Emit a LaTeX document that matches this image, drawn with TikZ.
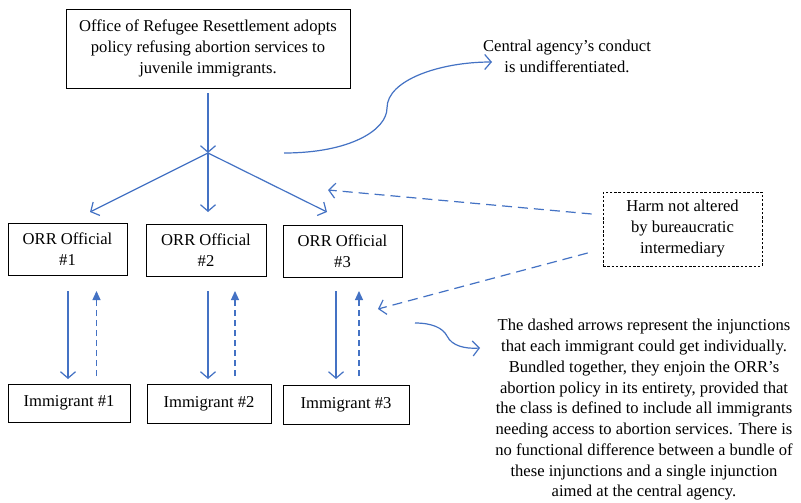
\documentclass[tikz,border=0pt]{standalone}
\usepackage{fontspec}
\setmainfont{Liberation Serif}
\usetikzlibrary{arrows.meta}
\definecolor{ablue}{HTML}{4472C4}
\begin{document}
\begin{tikzpicture}[x=1pt,y=-1pt,
  lbl/.style={align=center, inner sep=0pt, font=\fontsize{16.6}{21}\selectfont},
  box/.style={lbl, draw=black, line width=0.8pt},
  hbox/.style={lbl, draw=black, line width=0.7pt, dash pattern=on 2.5pt off 1.8pt},
  barb/.style={draw=ablue, line width=1.2pt, -{Straight Barb[length=6.5pt,width=15pt]}},
  dbarb/.style={barb, dash pattern=on 10pt off 6pt},
  up/.style={draw=ablue, line width=1.2pt, dash pattern=on 6pt off 4pt, -{Triangle[length=9pt,width=8pt]}},
]
\useasboundingbox (0,0) rectangle (801,503);
\fill[white] (0,0) rectangle (801,503);

\node[box, minimum width=284pt, minimum height=79pt] (top) at (208,48.5)
  {Office of Refugee Resettlement adopts\\policy refusing abortion services to\\juvenile immigrants.};

\node[box, minimum width=119pt, minimum height=52pt] (o1) at (67.5,249) {ORR Official\\\#1};
\node[box, minimum width=120pt, minimum height=52pt] (o2) at (206,250) {ORR Official\\\#2};
\node[box, minimum width=119pt, minimum height=52pt] (o3) at (342.5,251) {ORR Official\\\#3};

\node[box, minimum width=122pt, minimum height=38pt] (i1) at (69,403) {Immigrant \#1};
\node[box, minimum width=124pt, minimum height=39pt] (i2) at (209,403.5) {Immigrant \#2};
\node[box, minimum width=126pt, minimum height=39pt] (i3) at (346,404.5) {Immigrant \#3};

\node[hbox, minimum width=159pt, minimum height=74pt] (harm) at (682.5,229)
  {Harm not altered\\by bureaucratic\\intermediary};

\node[lbl] (central) at (567,56) {Central agency’s conduct\\is undifferentiated.};

\node[lbl, font=\fontsize{16.6}{20.75}\selectfont] (para) at (644,410)
  {The dashed arrows represent the injunctions\\
   that each immigrant could get individually.\\
   Bundled together, they enjoin the ORR’s\\
   abortion policy in its entirety, provided that\\
   the class is defined to include all immigrants\\
   needing access to abortion services. There is\\
   no functional difference between a bundle of\\
   these injunctions and a single injunction\\
   aimed at the central agency.};

% split point
\coordinate (split) at (208,153);
\draw[barb] ([yshift=-5pt]top.south) -- (split);
\coordinate (t1) at (90,212);
\coordinate (t2) at (208,212);
\coordinate (t3) at (327,212);
\draw[barb] (split) -- (t1);
\draw[barb] (split) -- (t2);
\draw[barb] (split) -- (t3);

% S-curve to central text
\coordinate (cs) at (284,153);
\coordinate (ce) at (492,62);
\draw[barb] (cs) .. controls (350,153) and (387,130) .. (387,108)
  .. controls (387,80) and (440,62) .. (ce);

% vertical arrows
\foreach \k/\xs/\xd in {1/68/96.5, 2/208/235, 3/336/359}{
  \coordinate (s\k a) at (\xs,291);
  \coordinate (s\k b) at (\xs,379);
  \coordinate (d\k a) at (\xd,376);
  \coordinate (d\k b) at (\xd,291);
  \draw[barb] (s\k a) -- (s\k b);
  \draw[up] (d\k a) -- (d\k b);
}

% dashed arrows from harm box
\coordinate (h1) at (328,190);
\coordinate (h2) at (378,309);
\draw[dbarb] ([xshift=-11pt,yshift=15pt]harm.west) -- (h1);
\draw[dbarb] ([xshift=-15pt,yshift=-24pt]harm.west) -- (h2);

% small curved arrow to paragraph
\coordinate (p1) at (415,323);
\coordinate (p2) at (480,348);
\draw[barb] (p1) .. controls (432,323) and (443,328) .. (447,336)
  .. controls (452,346) and (465,349) .. (p2);
\end{tikzpicture}
\end{document}
